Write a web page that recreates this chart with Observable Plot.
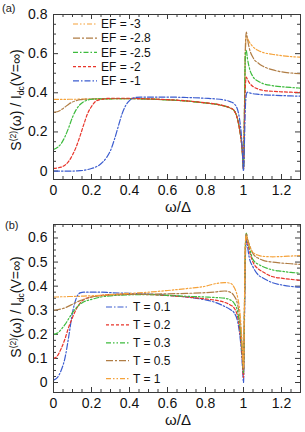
<!DOCTYPE html>
<html><head><meta charset="utf-8">
<script src="https://cdn.jsdelivr.net/npm/d3@7"></script>
<script src="https://cdn.jsdelivr.net/npm/@observablehq/plot@0.6"></script>
<style>
body{margin:0;background:#fff;}
#chart{width:305px;height:432px;}
#chart svg{display:block;}
</style></head><body><div id="chart"></div>
<script>
// ---- Panel (a): Fermi energy series ----
const omegaA = [0,0.02,0.04,0.06,0.08,0.1,0.12,0.14,0.16,0.18,0.2,0.22,0.24,0.26,0.28,0.3,0.32,0.34,0.36,0.38,0.4,0.43,0.46,0.5,0.6,0.7,0.8,0.85,0.9,0.93,0.95,0.97,0.98,0.99,0.995,1.0,1.005,1.01,1.015,1.02,1.03,1.05,1.08,1.1,1.15,1.2,1.25,1.3];
const ef_m3 = [0.366,0.366,0.366,0.366,0.367,0.367,0.367,0.368,0.368,0.368,0.368,0.369,0.369,0.369,0.369,0.369,0.37,0.37,0.37,0.37,0.37,0.37,0.369,0.368,0.364,0.358,0.348,0.342,0.332,0.322,0.31,0.26,0.21,0.14,0.08,0.01,0.3,0.6,0.69,0.68,0.66,0.635,0.615,0.607,0.597,0.59,0.585,0.582];
const ef_m28 = [0.30,0.303,0.313,0.327,0.342,0.353,0.36,0.365,0.367,0.368,0.368,0.369,0.369,0.369,0.369,0.369,0.37,0.37,0.37,0.37,0.37,0.37,0.369,0.368,0.364,0.358,0.348,0.342,0.332,0.322,0.31,0.26,0.21,0.14,0.08,0.01,0.32,0.64,0.71,0.68,0.63,0.58,0.55,0.537,0.518,0.507,0.501,0.497];
const ef_m25 = [0.11,0.12,0.14,0.175,0.222,0.275,0.315,0.34,0.355,0.363,0.367,0.368,0.369,0.369,0.369,0.369,0.37,0.37,0.37,0.37,0.37,0.37,0.369,0.368,0.364,0.358,0.348,0.342,0.332,0.322,0.31,0.26,0.21,0.14,0.08,0.01,0.3,0.6,0.615,0.58,0.53,0.482,0.458,0.448,0.437,0.431,0.427,0.424];
const ef_m2 = [0.014,0.016,0.02,0.03,0.05,0.082,0.125,0.18,0.24,0.295,0.33,0.355,0.364,0.368,0.371,0.372,0.372,0.372,0.372,0.372,0.372,0.371,0.37,0.369,0.365,0.359,0.349,0.343,0.333,0.323,0.31,0.26,0.21,0.14,0.08,0.01,0.25,0.44,0.48,0.47,0.452,0.432,0.418,0.413,0.408,0.405,0.403,0.402];
const ef_m1 = [0,0,0,0,0,0,0.001,0.002,0.004,0.008,0.013,0.02,0.03,0.047,0.07,0.105,0.16,0.225,0.29,0.335,0.36,0.376,0.378,0.378,0.378,0.376,0.372,0.369,0.363,0.355,0.345,0.31,0.26,0.17,0.09,0.0,0.15,0.33,0.39,0.403,0.4,0.395,0.392,0.39,0.388,0.386,0.384,0.383];
const namesA = ["EF = -3","EF = -2.8","EF = -2.5","EF = -2","EF = -1"];

// ---- Panel (b): temperature series ----
const omegaB = [0,0.02,0.04,0.06,0.08,0.1,0.12,0.14,0.16,0.2,0.25,0.3,0.4,0.5,0.6,0.7,0.8,0.85,0.9,0.93,0.95,0.97,0.98,0.99,0.995,1.0,1.005,1.01,1.015,1.02,1.03,1.05,1.08,1.1,1.15,1.2,1.25,1.3];
const t01 = [0.01,0.02,0.05,0.10,0.19,0.29,0.35,0.372,0.375,0.375,0.375,0.373,0.37,0.367,0.362,0.355,0.343,0.333,0.316,0.303,0.29,0.25,0.2,0.12,0.06,0.0,0.25,0.52,0.59,0.57,0.52,0.48,0.445,0.435,0.415,0.405,0.399,0.396];
const t02 = [0.10,0.11,0.14,0.18,0.23,0.27,0.305,0.33,0.345,0.355,0.362,0.365,0.366,0.365,0.361,0.355,0.347,0.342,0.333,0.322,0.31,0.27,0.22,0.14,0.08,0.02,0.28,0.55,0.61,0.59,0.55,0.50,0.47,0.46,0.44,0.433,0.428,0.424];
const t03 = [0.20,0.205,0.22,0.24,0.265,0.29,0.31,0.325,0.335,0.345,0.355,0.36,0.364,0.365,0.362,0.358,0.355,0.353,0.35,0.343,0.33,0.29,0.24,0.16,0.1,0.04,0.3,0.57,0.62,0.6,0.565,0.51,0.49,0.482,0.468,0.462,0.457,0.454];
const t05 = [0.30,0.302,0.305,0.31,0.317,0.325,0.333,0.34,0.345,0.355,0.36,0.363,0.366,0.367,0.368,0.37,0.373,0.376,0.38,0.375,0.36,0.32,0.27,0.18,0.12,0.05,0.32,0.58,0.62,0.6,0.575,0.535,0.515,0.508,0.5,0.496,0.493,0.49];
const t1 = [0.355,0.355,0.356,0.356,0.357,0.357,0.358,0.358,0.359,0.36,0.362,0.365,0.37,0.375,0.382,0.39,0.40,0.41,0.415,0.412,0.396,0.35,0.3,0.2,0.13,0.06,0.33,0.58,0.61,0.595,0.57,0.54,0.528,0.524,0.522,0.523,0.525,0.527];
const namesB = ["T = 0.1","T = 0.2","T = 0.3","T = 0.5","T = 1"];

// ---- Ticks ----
const xTicks = [0,0.2,0.4,0.6,0.8,1,1.2];
const xMinor = [0.05,0.1,0.15,0.25,0.3,0.35,0.45,0.5,0.55,0.65,0.7,0.75,0.85,0.9,0.95,1.05,1.1,1.15,1.25];
const yTicksA = [0,0.2,0.4,0.6,0.8];
const yMinorA = [0.05,0.1,0.15,0.25,0.3,0.35,0.45,0.5,0.55,0.65,0.7,0.75];
const yTicksB = [0,0.1,0.2,0.3,0.4,0.5,0.6];
const yMinorB = [0.025,0.05,0.075,0.125,0.15,0.175,0.225,0.25,0.275,0.325,0.35,0.375,0.425,0.45,0.475,0.525,0.55,0.575,0.625,0.65];

const C = {orange:"#f5a23a", brown:"#b07d45", green:"#3dbb3d", red:"#e8352b", blue:"#3b5ccf"};
const D = {ddot:"5,2,1.5,2,1.5,2", longdot:"7,2,2,2", dashdot:"5,2,1.5,2", dash:"3,2", blue:"6,2,1.5,2"};

const W = 305, ML = 53, MR = 5, FONT = "'Liberation Sans', Arial, Helvetica, sans-serif", FR = "#3a3a3a";

function panel(o) {
  const ih = o.height - o.mt - o.mb, iw = W - ML - MR;
  const rows = o.series.flatMap(s => o.omega.map((w, i) => ({w, v: s.values[i], name: s.name})));
  const marks = [
    Plot.tickX(xTicks, {x: d => d, insetTop: ih - 5, stroke: FR}),
    Plot.tickX(xTicks, {x: d => d, insetBottom: ih - 5, stroke: FR}),
    Plot.tickX(xMinor, {x: d => d, insetTop: ih - 3, stroke: FR}),
    Plot.tickX(xMinor, {x: d => d, insetBottom: ih - 3, stroke: FR}),
    Plot.tickY(o.yTicks, {y: d => d, insetRight: iw - 5, stroke: FR}),
    Plot.tickY(o.yTicks, {y: d => d, insetLeft: iw - 5, stroke: FR}),
    Plot.tickY(o.yMinor, {y: d => d, insetRight: iw - 3, stroke: FR}),
    Plot.tickY(o.yMinor, {y: d => d, insetLeft: iw - 3, stroke: FR})
  ];
  o.series.forEach(s => {
    marks.push(Plot.line(rows.filter(r => r.name === s.name), {
      x: "w", y: "v", stroke: s.color, strokeWidth: 1.2, strokeDasharray: s.dash, curve: "monotone-x", clip: true
    }));
  });
  marks.push(Plot.frame({stroke: FR, strokeWidth: 1}));
  const svg = Plot.plot({
    width: W, height: o.height,
    marginLeft: ML, marginRight: MR, marginTop: o.mt, marginBottom: o.mb,
    style: {fontSize: "14px", fontFamily: FONT, color: "#111", background: "#fff"},
    x: {domain: [0, 1.3], ticks: xTicks, tickSize: 0, tickPadding: 6, tickFormat: d => String(d), label: null},
    y: {domain: o.yDomain, ticks: o.yTicks, tickSize: 0, tickPadding: 6, tickFormat: d => d === 0 ? "0" : d3.format(".1f")(d), label: null},
    marks
  });
  const s = d3.select(svg);
  s.selectAll("text").attr("font-size", 14).attr("font-family", FONT);
  // panel tag
  s.append("text").attr("x", o.tagX).attr("y", o.tagY).attr("text-anchor", "start").attr("font-size", 11).attr("font-family", FONT).attr("fill", "#222").text(o.tag);
  // x label
  s.append("text").attr("x", 178).attr("y", o.height - o.mb + 33).attr("text-anchor", "middle")
    .attr("font-size", 15).attr("font-family", FONT).attr("fill", "#111").text("ω/Δ");
  // y label
  const yl = s.append("text").attr("transform", `translate(21,${o.ylY}) rotate(-90)`).attr("text-anchor", "middle")
    .attr("font-size", 14).attr("font-family", FONT).attr("fill", "#111");
  yl.append("tspan").text("S");
  yl.append("tspan").attr("dy", -5).attr("font-size", 8.5).text("(2)");
  yl.append("tspan").attr("dy", 5).text("(ω) / I");
  yl.append("tspan").attr("dy", 3).attr("font-size", 8.5).text("dc");
  yl.append("tspan").attr("dy", -3).text("(V=∞)");
  // legend
  const g = s.append("g").attr("text-anchor", "start");
  o.series.forEach((ser, i) => {
    const y = o.legY + i * o.legStep;
    g.append("line").attr("x1", o.legX).attr("x2", o.legX + o.legLen).attr("y1", y).attr("y2", y)
      .attr("stroke", ser.color).attr("stroke-width", 1.2).attr("stroke-dasharray", ser.dash);
    g.append("text").attr("x", o.legX + o.legLen + 4).attr("y", y).attr("dy", "0.35em").attr("text-anchor", "start")
      .attr("font-size", 12).attr("font-family", FONT).attr("fill", "#111").text(ser.name);
  });
  return svg;
}

const root = document.getElementById("chart");
root.appendChild(panel({
  omega: omegaA, height: 216, mt: 14, mb: 37, yDomain: [-0.043, 0.8], yTicks: yTicksA, yMinor: yMinorA,
  tag: "(a)", tagX: 2, tagY: 12, ylY: 100,
  legX: 73, legY: 24, legStep: 14.2, legLen: 24,
  series: [
    {name: namesA[0], values: ef_m3, color: C.orange, dash: D.ddot},
    {name: namesA[1], values: ef_m28, color: C.brown, dash: D.longdot},
    {name: namesA[2], values: ef_m25, color: C.green, dash: D.dashdot},
    {name: namesA[3], values: ef_m2, color: C.red, dash: D.dash},
    {name: namesA[4], values: ef_m1, color: C.blue, dash: D.blue}
  ]
}));
root.appendChild(panel({
  omega: omegaB, height: 216, mt: 8, mb: 40, yDomain: [-0.0415, 0.656], yTicks: yTicksB, yMinor: yMinorB,
  tag: "(b)", tagX: 5, tagY: 13, ylY: 91,
  legX: 106, legY: 91, legStep: 17.9, legLen: 23,
  series: [
    {name: namesB[0], values: t01, color: C.blue, dash: D.blue},
    {name: namesB[1], values: t02, color: C.red, dash: D.dash},
    {name: namesB[2], values: t03, color: C.green, dash: D.ddot},
    {name: namesB[3], values: t05, color: C.brown, dash: D.longdot},
    {name: namesB[4], values: t1, color: C.orange, dash: D.ddot}
  ]
}));
</script></body></html>
